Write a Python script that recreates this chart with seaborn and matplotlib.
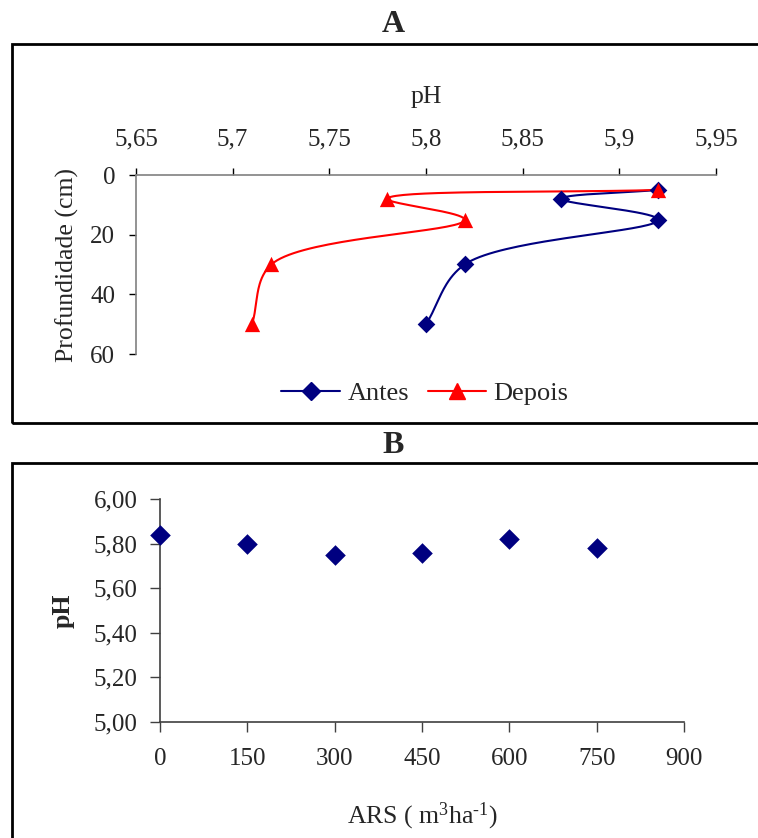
import numpy as np
import pandas as pd
import matplotlib
matplotlib.use("Agg")
import matplotlib.pyplot as plt
from matplotlib.lines import Line2D
from matplotlib.patches import Rectangle
from matplotlib.ticker import FuncFormatter, MultipleLocator
import seaborn as sns

# ---- data -------------------------------------------------------------
depth_cm = [5, 8, 15, 30, 50]
ph_antes = [5.92, 5.87, 5.92, 5.82, 5.80]
ph_depois = [5.92, 5.78, 5.82, 5.72, 5.71]

ars_dose = [0, 150, 300, 450, 600, 750]
ph_ars = [5.84, 5.80, 5.75, 5.76, 5.82, 5.78]

# ---- style ------------------------------------------------------------
sns.set_theme(style="white")
plt.rcParams["font.family"] = ["Liberation Serif", "DejaVu Serif"]
plt.rcParams["mathtext.fontset"] = "custom"
plt.rcParams["mathtext.rm"] = "Liberation Serif"
plt.rcParams["mathtext.it"] = "Liberation Serif"

NAVY = "#000080"
RED = "#FF0000"
SPINE = "#808080"
TICK_FS = 18
LABEL_FS = 18.5
W, H = 758, 838

fig = plt.figure(figsize=(W / 100, H / 100), dpi=100)
fig.patch.set_facecolor("white")


def px_box(left, top, right, bottom):
    return [left / W, 1 - bottom / H, (right - left) / W, (bottom - top) / H]


def comma(fmt):
    return FuncFormatter(lambda v, _: (fmt % v).replace(".", ","))


def smooth(ax, xs, ys, n=40, alpha=0.5):
    """Centripetal Catmull-Rom curve through the points, built in screen space."""
    pts = ax.transData.transform(np.column_stack([xs, ys]))
    P = np.vstack([2 * pts[0] - pts[1], pts, 2 * pts[-1] - pts[-2]])
    t = np.linspace(0, 1, n)[:, None]
    segs = []
    for i in range(1, len(P) - 2):
        p0, p1, p2, p3 = P[i - 1], P[i], P[i + 1], P[i + 2]
        d1 = np.linalg.norm(p1 - p0) ** alpha
        d2 = np.linalg.norm(p2 - p1) ** alpha
        d3 = np.linalg.norm(p3 - p2) ** alpha
        c1 = (d1 ** 2 * p2 - d2 ** 2 * p0
              + (2 * d1 ** 2 + 3 * d1 * d2 + d2 ** 2) * p1) / (3 * d1 * (d1 + d2))
        c2 = (d3 ** 2 * p1 - d2 ** 2 * p3
              + (2 * d3 ** 2 + 3 * d3 * d2 + d2 ** 2) * p2) / (3 * d3 * (d3 + d2))
        segs.append((1 - t) ** 3 * p1 + 3 * (1 - t) ** 2 * t * c1
                    + 3 * (1 - t) * t ** 2 * c2 + t ** 3 * p2)
    return ax.transData.inverted().transform(np.vstack(segs))


# ---- panel frames and titles -------------------------------------------
fig.add_artist(Rectangle((12 / W, 1 - 423 / H), 1.0, (423 - 44) / H,
                         transform=fig.transFigure, fill=False,
                         lw=2.0, edgecolor="black"))
fig.add_artist(Rectangle((12 / W, -0.1), 1.0, 0.1 + (H - 463) / H,
                         transform=fig.transFigure, fill=False,
                         lw=2.0, edgecolor="black"))
fig.text(393 / W, 1 - 25 / H, "A", ha="center", va="center",
         fontsize=23, fontweight="bold")
fig.text(393 / W, 1 - 445 / H, "B", ha="center", va="center",
         fontsize=23, fontweight="bold")

# ---- panel A: pH profile by depth ---------------------------------------
axA = fig.add_axes(px_box(136, 175, 716, 354))
axA.set_xlim(5.65, 5.95)
axA.set_ylim(60, 0)
axA.xaxis.set_major_locator(MultipleLocator(0.05))
axA.yaxis.set_major_locator(MultipleLocator(20))
axA.xaxis.set_major_formatter(comma("%g"))
axA.xaxis.tick_top()
axA.xaxis.set_label_position("top")
for side in ("right", "bottom"):
    axA.spines[side].set_visible(False)
for side in ("top", "left"):
    axA.spines[side].set_color(SPINE)
    axA.spines[side].set_linewidth(1.2)
axA.tick_params(axis="x", which="major", direction="out", length=5,
                width=1, color="black", labelsize=TICK_FS, pad=13,
                top=True, bottom=False)
axA.tick_params(axis="y", which="major", direction="out", length=5,
                width=1, color="black", labelsize=TICK_FS, pad=10, left=True)

profile = pd.DataFrame({
    "depth": depth_cm * 2,
    "ph": ph_antes + ph_depois,
    "serie": ["Antes"] * len(depth_cm) + ["Depois"] * len(depth_cm),
})
styles = {"Antes": (NAVY, "D", 9), "Depois": (RED, "^", 11)}
for name, (color, marker, ms) in styles.items():
    sub = profile[profile["serie"] == name]
    curve = smooth(axA, sub["ph"].to_numpy(), sub["depth"].to_numpy())
    sns.lineplot(x=curve[:, 0], y=curve[:, 1], sort=False, estimator=None,
                 color=color, lw=1.5, ax=axA, legend=False)
    sns.scatterplot(data=sub, x="ph", y="depth", color=color, marker=marker,
                    s=ms ** 2, edgecolor=color, linewidth=0, ax=axA,
                    legend=False, zorder=5, clip_on=False)
axA.set_xlim(5.65, 5.95)
axA.set_ylim(60, 0)
axA.set_xlabel("pH", fontsize=LABEL_FS, labelpad=18)
axA.set_ylabel("Profundidade (cm)", fontsize=LABEL_FS, labelpad=8)

handles = [
    Line2D([], [], color=NAVY, lw=1.5, marker="D", markersize=9,
           markeredgecolor=NAVY),
    Line2D([], [], color=RED, lw=1.5, marker="^", markersize=11,
           markeredgecolor=RED),
]
fig.legend(handles, ["Antes", "Depois"], loc="center",
           bbox_to_anchor=(425 / W, 1 - 393 / H), ncol=2, frameon=False,
           fontsize=19, handlelength=2.2, handletextpad=0.3,
           columnspacing=0.7)

# ---- panel B: pH against ARS dose ---------------------------------------
axB = fig.add_axes(px_box(160, 499, 684, 722))
dose = pd.DataFrame({"ars": ars_dose, "ph": ph_ars})
sns.scatterplot(data=dose, x="ars", y="ph", color=NAVY, marker="D", s=110,
                edgecolor=NAVY, linewidth=0, ax=axB, legend=False,
                clip_on=False, zorder=5)
axB.set_xlim(0, 900)
axB.set_ylim(5.0, 6.0)
axB.xaxis.set_major_locator(MultipleLocator(150))
axB.yaxis.set_major_locator(MultipleLocator(0.2))
axB.yaxis.set_major_formatter(comma("%.2f"))
for side in ("right", "top"):
    axB.spines[side].set_visible(False)
for side in ("bottom", "left"):
    axB.spines[side].set_color("#404040")
    axB.spines[side].set_linewidth(1.2)
axB.tick_params(axis="x", direction="out", length=7, width=1,
                color="#404040", labelsize=TICK_FS, pad=12, bottom=True)
axB.tick_params(axis="y", direction="out", length=7, width=1,
                color="#404040", labelsize=TICK_FS, pad=9, left=True)
axB.set_xlabel(r"ARS ( m$^{3}$ha$^{\text{-}1}$)", fontsize=LABEL_FS,
               labelpad=22)
axB.set_ylabel("pH", fontsize=LABEL_FS, fontweight="bold", labelpad=14)

fig.savefig("out.png", dpi=100, facecolor="white")
